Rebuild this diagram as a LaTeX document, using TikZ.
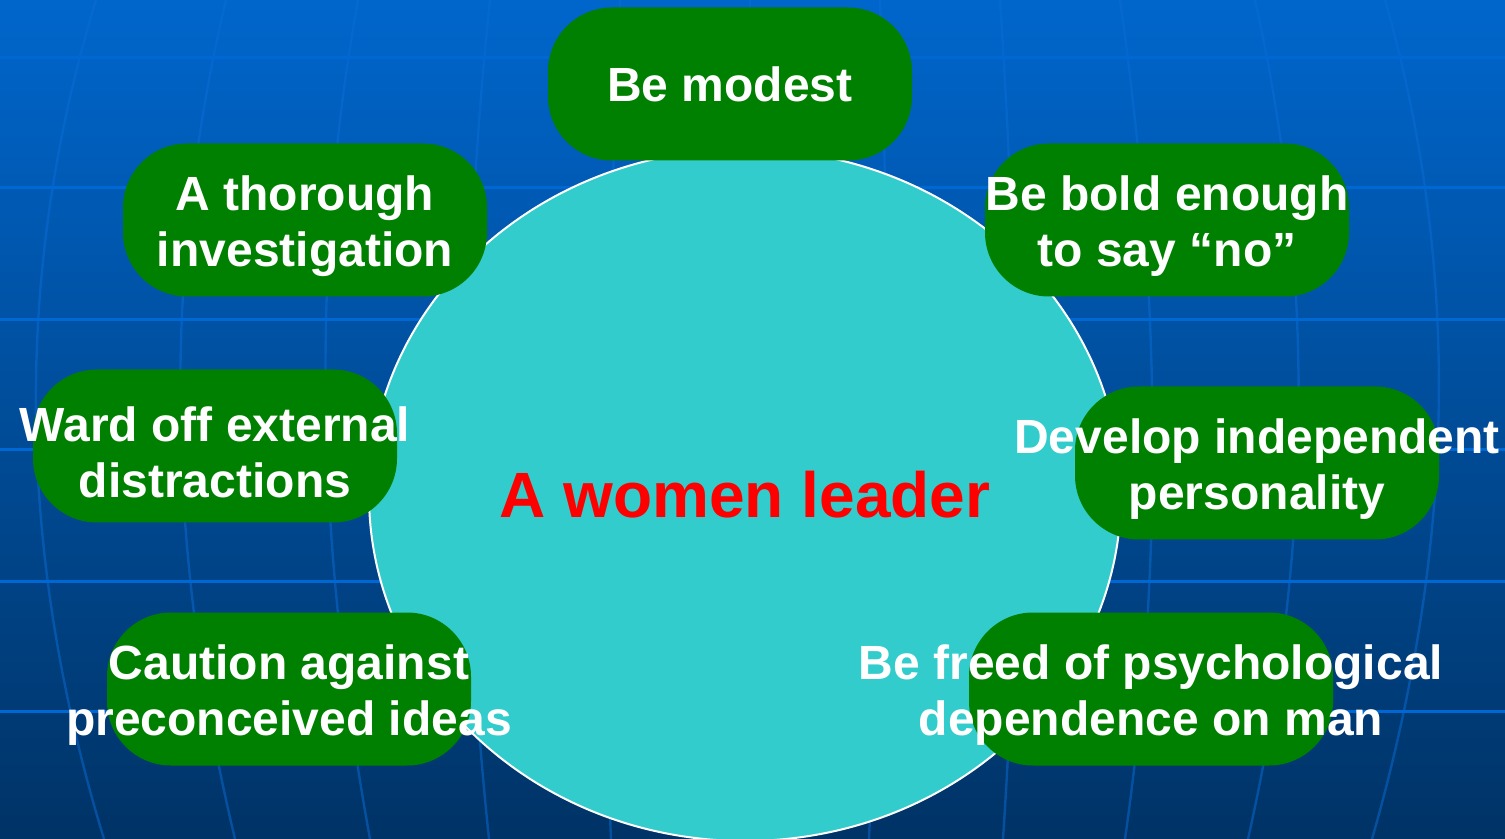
\documentclass[tikz,border=0pt]{standalone}
\usepackage{fontspec}
\setmainfont{Liberation Sans}
\usetikzlibrary{shapes.geometric}
\definecolor{bgtop}{HTML}{0066CC}
\definecolor{bgbottom}{HTML}{003366}
\definecolor{gridblue}{HTML}{0068D4}
\definecolor{meridian}{HTML}{0A6CD6}
\definecolor{hubcyan}{HTML}{33CCCC}
\definecolor{leafgreen}{HTML}{008000}

\begin{document}
\begin{tikzpicture}[x=0.5pt,y=-0.5pt]
    % Define shapes
    \tikzstyle{hub}=[ellipse, draw=white, line width=1pt, fill=hubcyan, minimum width=376pt, minimum height=346pt, inner sep=0pt, text=red, font=\fontsize{32}{38}\selectfont\bfseries]
    \tikzstyle{leaf}=[rectangle, rounded corners=32pt, fill=leafgreen, minimum width=182pt, minimum height=76.5pt, inner sep=0pt]
    \tikzstyle{leaftext}=[align=center, text=white, inner sep=0pt, font=\fontsize{24}{28}\selectfont\bfseries]
    \tikzstyle{twoline}=[leaftext, yshift=-3pt]

    % Background with globe grid
    \useasboundingbox (0,0) rectangle (1505,839);
    \fill[top color=bgtop, bottom color=bgbottom] (0,0) rectangle (1505,839);
    \foreach \xt/\xb/\b in {96/104/-64, 226/235/-50, 358/370/-38, 490/489/-22, 620/611/-9, 750/740/0, 880/869/9, 1000/1003/14, 1120/1125/30, 1255/1248/47, 1385/1372/60}
        \draw[meridian, opacity=0.5, line width=1.2pt] (\xt,0) .. controls ({\xt+1.333*\b},280) and ({\xb+1.333*\b},560) .. (\xb,839);
    \foreach \y in {58,188,320,450,581,711}
        \draw[gridblue, line width=1.5pt] (0,\y) -- (1505,\y);

    % Place the centre
    \node[hub] (leader) at (745,495) {A women leader};

    % Place the qualities
    \node[leaf] (modest) at (730,84) {};
    \node[leaf] (thorough) at (305,220) {};
    \node[leaf] (bold) at (1167,220) {};
    \node[leaf] (wardoff) at (215,446) {};
    \node[leaf] (develop) at (1257,463) {};
    \node[leaf] (caution) at (289,689) {};
    \node[leaf] (freed) at (1151,689) {};

    % Texts of the qualities
    \node[leaftext] (modest-t) at (modest) {Be modest};
    \node[twoline] (thorough-t) at (thorough) {A thorough\\investigation};
    \node[twoline] (bold-t) at (bold) {Be bold enough\\to say “no”};
    \node[twoline] (wardoff-t) at (wardoff) {Ward off external\\distractions};
    \node[twoline] (develop-t) at (develop) {Develop independent\\personality};
    \node[twoline] (caution-t) at (caution) {Caution against\\preconceived ideas};
    \node[twoline] (freed-t) at (freed) {Be freed of psychological\\dependence on man};
\end{tikzpicture}
\end{document}
